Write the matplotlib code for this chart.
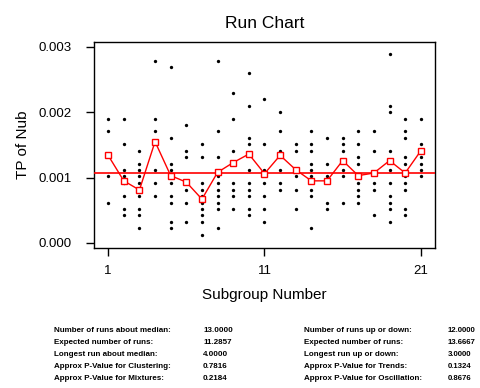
import numpy as np
import matplotlib
matplotlib.use("Agg")
import matplotlib.pyplot as plt

plt.rcParams['font.family'] = ['Liberation Sans', 'DejaVu Sans']

groups = [
    [0.00190, 0.00171, 0.00102, 0.00061],
    [0.00190, 0.00151, 0.00112, 0.00102, 0.00091, 0.00072, 0.00052, 0.00042],
    [0.00141, 0.00121, 0.00112, 0.00102, 0.00091, 0.00072, 0.00052, 0.00042, 0.00023],
    [0.00279, 0.00190, 0.00171, 0.00112, 0.00091, 0.00072],
    [0.00269, 0.00161, 0.00121, 0.00112, 0.00091, 0.00072, 0.00061, 0.00032, 0.00023],
    [0.00180, 0.00141, 0.00131, 0.00081, 0.00061, 0.00032],
    [0.00151, 0.00131, 0.00091, 0.00081, 0.00072, 0.00061, 0.00052, 0.00042, 0.00032, 0.00012],
    [0.00279, 0.00171, 0.00131, 0.00102, 0.00091, 0.00081, 0.00072, 0.00061, 0.00052, 0.00023],
    [0.00230, 0.00190, 0.00141, 0.00091, 0.00081, 0.00072, 0.00052],
    [0.00260, 0.00210, 0.00161, 0.00151, 0.00112, 0.00091, 0.00081, 0.00072, 0.00052, 0.00042],
    [0.00220, 0.00151, 0.00112, 0.00091, 0.00072, 0.00052, 0.00032],
    [0.00200, 0.00171, 0.00141, 0.00112, 0.00091, 0.00081],
    [0.00151, 0.00141, 0.00102, 0.00081, 0.00052],
    [0.00171, 0.00151, 0.00141, 0.00121, 0.00112, 0.00102, 0.00081, 0.00072, 0.00023],
    [0.00161, 0.00121, 0.00102, 0.00061, 0.00052],
    [0.00161, 0.00151, 0.00141, 0.00112, 0.00102, 0.00061],
    [0.00171, 0.00151, 0.00131, 0.00121, 0.00091, 0.00081, 0.00072, 0.00061],
    [0.00171, 0.00141, 0.00091, 0.00081, 0.00042],
    [0.00289, 0.00210, 0.00200, 0.00141, 0.00112, 0.00091, 0.00072, 0.00061, 0.00052, 0.00032],
    [0.00190, 0.00171, 0.00161, 0.00131, 0.00121, 0.00102, 0.00091, 0.00081, 0.00052, 0.00042],
    [0.00190, 0.00151, 0.00131, 0.00121, 0.00112, 0.00102],
]

# subgroup means (red squares)
means = [0.00134, 0.00095, 0.00081, 0.00155, 0.00103, 0.00093, 0.00067,
         0.00108, 0.00123, 0.00136, 0.00106, 0.00134, 0.00112, 0.00095,
         0.00095, 0.00126, 0.00103, 0.00107, 0.00126, 0.00107, 0.00141]
median = 0.00107

left_labels = ["Number of runs about median:", "Expected number of runs:",
               "Longest run about median:", "Approx P-Value for Clustering:",
               "Approx P-Value for Mixtures:"]
left_values = ["13.0000", "11.2857", "4.0000", "0.7816", "0.2184"]
right_labels = ["Number of runs up or down:", "Expected number of runs:",
                "Longest run up or down:", "Approx P-Value for Trends:",
                "Approx P-Value for Oscillation:"]
right_values = ["12.0000", "13.6667", "3.0000", "0.1324", "0.8676"]

subgroups = np.arange(1, len(groups) + 1)

fig = plt.figure(figsize=(4.8, 3.88), dpi=100)
ax = fig.add_axes([0.196, 0.361, 0.71, 0.5315])

for i, g in zip(subgroups, groups):
    ax.plot([i] * len(g), g, 'o', color='black', ms=2.4, mew=0, zorder=2)

ax.axhline(median, color='red', lw=1.2, zorder=3)
ax.plot(subgroups, means, '-s', color='red', lw=1, ms=5,
        mfc='white', mec='red', mew=1, zorder=4)

ax.set_xlim(0.1, 21.9)
ax.set_ylim(-0.000077, 0.00308)
ax.set_xticks([1, 11, 21])
ax.set_yticks([0, 0.001, 0.002, 0.003])
ax.set_yticklabels(['0.000', '0.001', '0.002', '0.003'])
ax.tick_params(top=False, right=False, length=6, width=1, labelsize=9.5)
ax.tick_params(axis='x', pad=6)
ax.tick_params(axis='y', pad=10)
for s in ax.spines.values():
    s.set_linewidth(1)

ax.set_title('Run Chart', fontsize=12.5, pad=10)
ax.set_xlabel('Subgroup Number', fontsize=11, labelpad=8)
ax.set_ylabel('TP of Nub', fontsize=11, labelpad=6)

ys = [330, 342, 354, 366, 378]
for k, y in enumerate(ys):
    fy = 1 - y / 388
    fig.text(54 / 480, fy, left_labels[k], fontsize=5.8, fontweight='bold', va='center')
    fig.text(203 / 480, fy, left_values[k], fontsize=5.8, fontweight='bold', va='center')
    fig.text(304 / 480, fy, right_labels[k], fontsize=5.8, fontweight='bold', va='center')
    fig.text(448 / 480, fy, right_values[k], fontsize=5.6, fontweight='bold', va='center')

fig.savefig('out.png', dpi=100)
